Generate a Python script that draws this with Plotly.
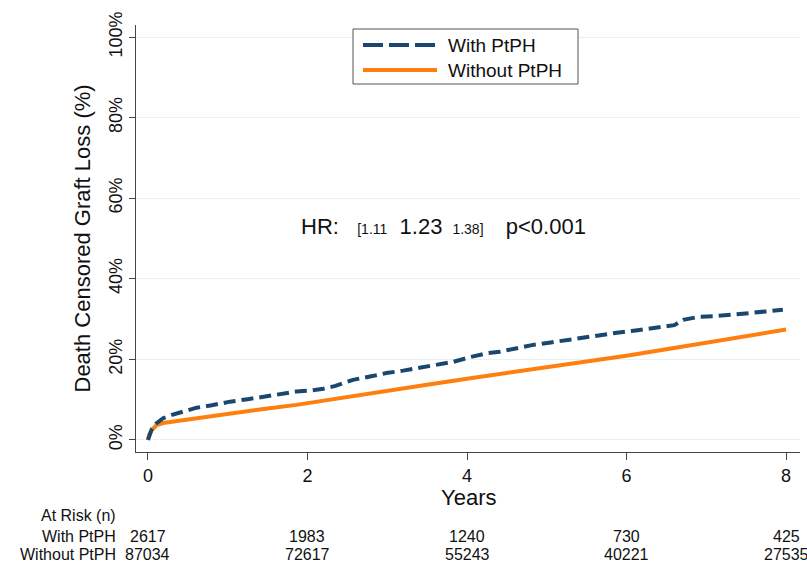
import plotly.graph_objects as go

# ---- data ----
t_with = [0, 0.02, 0.05, 0.1, 0.19, 0.3, 0.45, 0.61, 0.8, 1.03, 1.25, 1.45, 1.65, 1.86, 2.05, 2.2,
          2.35, 2.57, 2.8, 2.99, 3.2, 3.41, 3.62, 3.83, 4.05, 4.25, 4.41, 4.62, 4.83, 5.05, 5.25,
          5.45, 5.67, 5.88, 6.09, 6.3, 6.5, 6.6, 6.71, 6.92, 7.1, 7.34, 7.55, 7.75, 7.96]
y_with = [0, 1.5, 2.8, 4.0, 5.4, 6.2, 7.0, 8.0, 8.6, 9.5, 10.1, 10.8, 11.4, 12.0, 12.3, 12.7,
          13.4, 14.9, 15.8, 16.6, 17.2, 17.9, 18.6, 19.4, 20.6, 21.5, 21.9, 22.8, 23.6, 24.2, 24.8,
          25.5, 26.1, 26.6, 27.1, 27.6, 28.1, 28.5, 29.8, 30.6, 30.7, 31.0, 31.5, 31.9, 32.3]

t_without = [0, 0.02, 0.05, 0.11, 0.19, 0.4, 0.61, 0.82, 1.03, 1.45, 1.86, 2.24, 2.6, 3.0,
             3.5, 4.0, 4.5, 5.0, 5.5, 6.0, 6.5, 7.0, 7.5, 8.0]
y_without = [0, 1.5, 2.5, 3.7, 4.2, 4.8, 5.4, 6.0, 6.7, 7.7, 8.7, 9.9, 10.9, 12.2,
             13.7, 15.2, 16.6, 18.0, 19.4, 20.9, 22.5, 24.1, 25.7, 27.4]

series_names = ["With PtPH", "Without PtPH"]
risk_years = [0, 2, 4, 6, 8]
risk_with = [2617, 1983, 1240, 730, 425]
risk_without = [87034, 72617, 55243, 40221, 27535]

x_ticks = [0, 2, 4, 6, 8]
y_ticks = [0, 20, 40, 60, 80, 100]
y_ticktext = ["0%", "20%", "40%", "60%", "80%", "100%"]

NAVY = "#1a476f"
ORANGE = "#ff7f0e"
FONT = "Liberation Sans, Arial, sans-serif"

W, H = 807, 565
L, R, T, B = 136, 7, 25, 113
PW, PH = W - L - R, H - T - B

def px_x(p):
    return (p - L) / PW

def px_y(p):
    return (T + PH - p) / PH

fig = go.Figure()
fig.add_trace(go.Scatter(x=t_without, y=y_without, mode="lines", name=series_names[1],
                         line=dict(color=ORANGE, width=4), showlegend=False))
fig.add_trace(go.Scatter(x=t_with, y=y_with, mode="lines", name=series_names[0],
                         line=dict(color=NAVY, width=4, dash="12px,6px"), showlegend=False))

annotations = []
# HR text
sm = "font-size:14px"
hr_text = ("HR:\u00a0\u00a0\u00a0<span style='%s'>[1.11</span>\u00a0\u00a01.23\u00a0<span style='%s'>\u00a01.38]\u00a0</span>\u00a0\u00a0\u00a0p&lt;0.001" % (sm, sm))
annotations.append(dict(x=px_x(299), y=px_y(226), xref="paper", yref="paper", text=hr_text,
                        showarrow=False, xanchor="left", yanchor="middle",
                        font=dict(family=FONT, size=22, color="#111")))
# axis titles
annotations.append(dict(x=0.5, y=px_y(498), xref="paper", yref="paper", text="Years",
                        showarrow=False, xanchor="center", yanchor="middle",
                        font=dict(family=FONT, size=22, color="#111")))
annotations.append(dict(x=px_x(82), y=0.5, xref="paper", yref="paper",
                        text="Death Censored Graft Loss (%)", textangle=-90,
                        showarrow=False, xanchor="center", yanchor="middle",
                        font=dict(family=FONT, size=22, color="#111")))
# at-risk table
annotations.append(dict(x=px_x(118), y=px_y(515), xref="paper", yref="paper", text="At Risk (n)",
                        showarrow=False, xanchor="right", yanchor="middle",
                        font=dict(family=FONT, size=16, color="#111")))
for lbl, py in [(series_names[0], 536), (series_names[1], 554)]:
    annotations.append(dict(x=px_x(118), y=px_y(py), xref="paper", yref="paper", text=lbl,
                            showarrow=False, xanchor="right", yanchor="middle",
                            font=dict(family=FONT, size=16, color="#111")))
for yr, a, b in zip(risk_years, risk_with, risk_without):
    for val, py in [(a, 536), (b, 554)]:
        annotations.append(dict(x=yr, y=px_y(py), xref="x", yref="paper", text=str(val),
                                showarrow=False, xanchor="center", yanchor="middle",
                                font=dict(family=FONT, size=16, color="#111")))
# manual legend text
for lbl, py in [(series_names[0], 45), (series_names[1], 70)]:
    annotations.append(dict(x=px_x(446), y=px_y(py), xref="paper", yref="paper", text=lbl,
                            showarrow=False, xanchor="left", yanchor="middle",
                            font=dict(family=FONT, size=19, color="#111")))

shapes = [
    dict(type="rect", xref="paper", yref="paper", x0=px_x(353), x1=px_x(578),
         y0=px_y(84), y1=px_y(29), line=dict(color="#555", width=1), fillcolor="white"),
    dict(type="line", xref="paper", yref="paper", x0=px_x(363), x1=px_x(437),
         y0=px_y(45), y1=px_y(45), line=dict(color=NAVY, width=4, dash="20px,6px")),
    dict(type="line", xref="paper", yref="paper", x0=px_x(363), x1=px_x(437),
         y0=px_y(70), y1=px_y(70), line=dict(color=ORANGE, width=4)),
]

fig.update_layout(
    width=W, height=H,
    margin=dict(l=L, r=R, t=T, b=B, pad=0),
    paper_bgcolor="white", plot_bgcolor="white",
    font=dict(family=FONT, color="#111"),
    showlegend=False,
    annotations=annotations,
    shapes=shapes,
    xaxis=dict(range=[-0.15, 8.175], tickvals=x_ticks, ticks="outside", ticklen=7,
               tickcolor="#444", showline=True, linecolor="#444", linewidth=1,
               showgrid=False, zeroline=False, tickfont=dict(size=18, color="#111")),
    yaxis=dict(range=[-3, 103], tickvals=y_ticks, ticktext=y_ticktext, tickangle=-90,
               ticks="outside", ticklen=6, tickcolor="#444", showline=True, linecolor="#444",
               linewidth=1, showgrid=True, gridcolor="#e8f0f2", gridwidth=1, zeroline=False,
               tickfont=dict(size=18, color="#111")),
)

fig.write_html("out.html", config={"displayModeBar": False},
               post_script="document.body.style.margin='0px';document.body.style.overflow='hidden';")
